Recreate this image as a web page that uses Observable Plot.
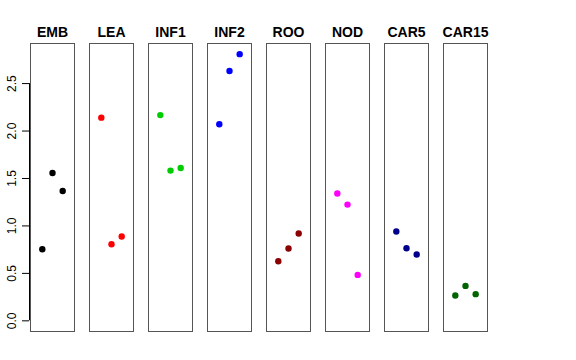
<!DOCTYPE html>
<html>
<head>
<meta charset="utf-8">
<script src="https://cdn.jsdelivr.net/npm/d3@7"></script>
<script src="https://cdn.jsdelivr.net/npm/@observablehq/plot@0.6"></script>
<style>
  html, body { margin: 0; padding: 0; background: #fff; }
  svg { display: block; }
</style>
</head>
<body>
<div id="chart"></div>
<script>
const categories = ["EMB", "LEA", "INF1", "INF2", "ROO", "NOD", "CAR5", "CAR15"];
const colors = ["#000000", "#FF0000", "#00CD00", "#0000FF", "#8B0000", "#FF00FF", "#00008B", "#006400"];
const replicate = [1, 2, 3];
const EMB = [0.755, 1.558, 1.368];
const LEA = [2.141, 0.807, 0.888];
const INF1 = [2.168, 1.583, 1.611];
const INF2 = [2.071, 2.632, 2.81];
const ROO = [0.628, 0.762, 0.92];
const NOD = [1.341, 1.225, 0.484];
const CAR5 = [0.941, 0.765, 0.699];
const CAR15 = [0.267, 0.368, 0.281];
const yTicks = [0, 0.5, 1, 1.5, 2, 2.5];

const series = [EMB, LEA, INF1, INF2, ROO, NOD, CAR5, CAR15];
const rows = [];
categories.forEach((c, i) => {
  series[i].forEach((v, j) => rows.push({cat: c, rep: replicate[j], value: v, color: colors[i]}));
});

const ymax = d3.max(rows, d => d.value);
const yPad = 0.04 * ymax;
const xPad = 0.04 * 4;

const chart = Plot.plot({
  width: 576,
  height: 360,
  marginLeft: 29,
  marginRight: 88,
  marginTop: 43,
  marginBottom: 29,
  style: {fontFamily: "'Liberation Sans', Arial, Helvetica, sans-serif", background: "#fff", color: "#000"},
  fx: {domain: categories, paddingInner: 0.246, paddingOuter: 0, label: null},
  x: {domain: [0 - xPad, 4 + xPad], axis: null},
  y: {domain: [0 - yPad, ymax + yPad], label: null},
  marks: [
    Plot.frame({stroke: "#555", strokeWidth: 1}),
    Plot.axisFx({anchor: "top", tickSize: 0, tickPadding: 7, fontSize: 14, fontWeight: "bold", label: null}),
    Plot.axisY({ticks: yTicks, tickFormat: d3.format(".1f"), tickRotate: -90, tickSize: 7, tickPadding: 7, fontSize: 12, dx: -1, label: null}),
    Plot.ruleX([{cat: "EMB"}], {fx: "cat", x: 0 - xPad, y1: 0, y2: 2.5, dx: -1, stroke: "#000"}),
    Plot.dot(rows, {fx: "cat", x: "rep", y: "value", fill: d => d.color, r: 3.2, stroke: null})
  ]
});
document.getElementById("chart").appendChild(chart);
</script>
</body>
</html>
